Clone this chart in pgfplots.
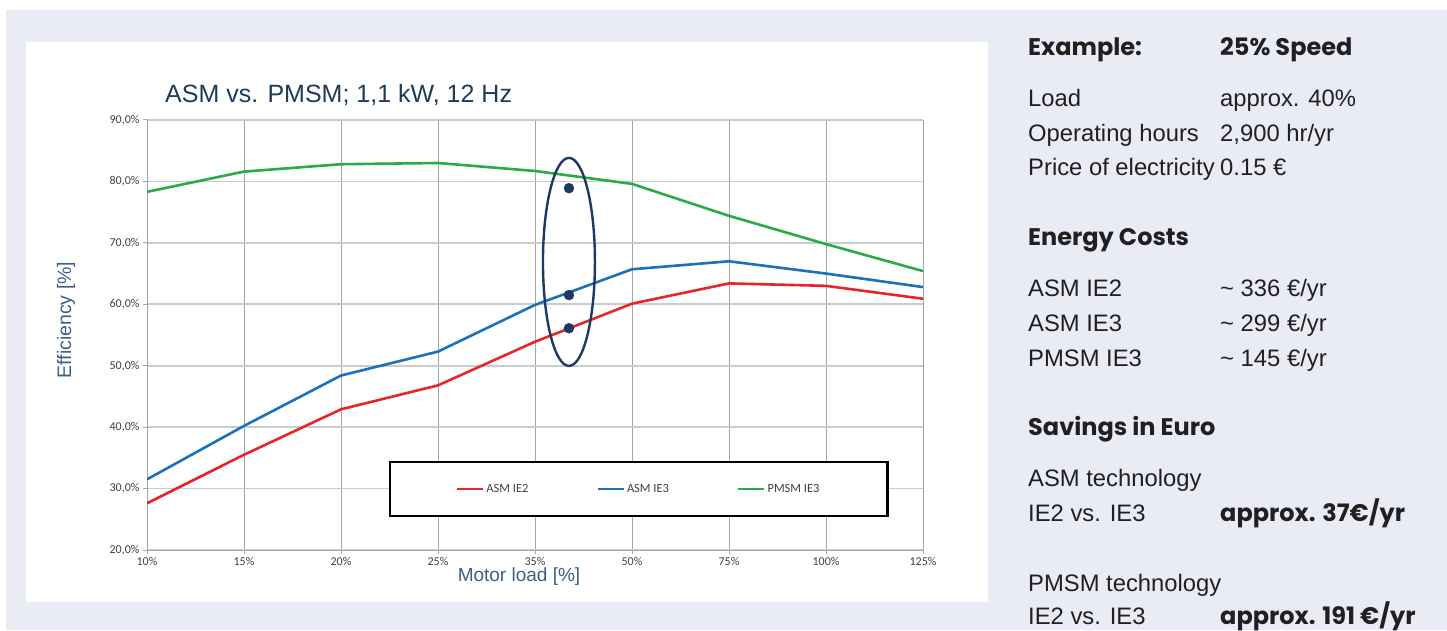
\documentclass[border=0pt]{standalone}
\usepackage{pgfplots}
\pgfplotsset{compat=1.18}
\usepackage{fontspec}
\setmainfont{Liberation Sans}
\newfontfamily\carlito{Carlito}
\newfontfamily\poppins{Poppins}
\definecolor{bgc}{RGB}{233,236,245}
\definecolor{cred}{RGB}{232,38,42}
\definecolor{cblue}{RGB}{27,114,187}
\definecolor{cgreen}{RGB}{44,170,74}
\definecolor{navy}{RGB}{31,56,100}
\definecolor{gridv}{RGB}{166,166,166}
\definecolor{gridh}{RGB}{204,204,204}
\definecolor{ticktxt}{RGB}{64,64,64}
\definecolor{titlec}{RGB}{31,59,92}
\definecolor{labc}{RGB}{62,95,138}
\definecolor{txt}{RGB}{35,31,32}
\newcommand{\reg}{\fontsize{23.8bp}{28bp}\selectfont\color{txt}}
\newcommand{\hd}{\poppins\bfseries\fontsize{24bp}{28bp}\selectfont\color{txt}}
\begin{document}
\begin{tikzpicture}
\begin{scope}[x=1bp,y=1bp]
\path (0,0) rectangle (1447,630);
\fill[bgc] (6,0) rectangle (1447,620);
\fill[white] (26,28) rectangle (988,588);
\end{scope}
\begin{axis}[
  at={(147bp,80bp)}, anchor=south west,
  scale only axis, width=776bp, height=430bp,
  xmin=0, xmax=8, ymin=20, ymax=90,
  xtick={0,...,8},
  xticklabels={10\%,15\%,20\%,25\%,35\%,50\%,75\%,100\%,125\%},
  ytick={20,30,...,90},
  yticklabels={20{,}0\%,30{,}0\%,40{,}0\%,50{,}0\%,60{,}0\%,70{,}0\%,80{,}0\%,90{,}0\%},
  axis x line*=bottom, axis y line*=left,
  axis line style={gridv, line width=1bp, -},
  tick align=outside, major tick length=4bp,
  tick style={gridv, line width=1bp},
  xmajorgrids, ymajorgrids,
  x grid style={gridv, line width=1bp},
  y grid style={gridh, line width=1.6bp},
  ticklabel style={font=\carlito\fontsize{12bp}{13bp}\selectfont, text=ticktxt},
  legend columns=3,
  legend style={at={(0.3115,0.207)}, anchor=north west, draw=black, line width=2.2bp,
    font=\carlito\fontsize{12.5bp}{14bp}\selectfont, text=ticktxt,
    inner xsep=66bp, inner ysep=20bp,
    /tikz/every even column/.append style={column sep=0bp}},
  legend image code/.code={\draw[#1] (0bp,0bp) -- (26bp,0bp);},
]
\addplot[cred, line width=2.6bp] coordinates {(0,27.6) (1,35.5) (2,42.9) (3,46.8) (4,53.9) (5,60.1) (6,63.4) (7,63.0) (8,60.9)};
\addlegendentry{\makebox[108bp][l]{ASM IE2}}
\addplot[cblue, line width=2.6bp] coordinates {(0,31.5) (1,40.2) (2,48.4) (3,52.3) (4,59.9) (5,65.7) (6,67.0) (7,65.0) (8,62.8)};
\addlegendentry{\makebox[108bp][l]{ASM IE3}}
\addplot[cgreen, line width=2.6bp] coordinates {(0,78.3) (1,81.6) (2,82.8) (3,83.0) (4,81.7) (5,79.6) (6,74.4) (7,69.8) (8,65.4)};
\addlegendentry{PMSM IE3}
\addplot[only marks, mark=*, mark size=5bp, navy, forget plot] coordinates {(4.35,78.9) (4.35,61.5) (4.35,56.1)};
\draw[navy, line width=2.4bp] (axis cs:4.35,66.9) ellipse [x radius=26bp, y radius=104bp];
\end{axis}
\begin{scope}[x=1bp,y=1bp]
\node[anchor=base west, inner sep=0, text=titlec, font=\fontsize{25bp}{29bp}\selectfont] at (165,527) {ASM vs. PMSM; 1,1 kW, 12 Hz};
\node[rotate=90, inner sep=0, text=labc, font=\fontsize{19.5bp}{23bp}\selectfont] at (66,310) {Efficiency [\%]};
\node[inner sep=0, text=labc, font=\fontsize{19bp}{23bp}\selectfont] at (519,53) {Motor load [\%]};
% right panel
\node[anchor=base west, inner sep=0] at (1028,574) {\hd Example:};
\node[anchor=base west, inner sep=0] at (1220,574) {\hd 25\% Speed};
\node[anchor=base west, inner sep=0] at (1028,523) {\reg Load};
\node[anchor=base west, inner sep=0] at (1220,523) {\reg approx. 40\%};
\node[anchor=base west, inner sep=0] at (1028,488) {\reg Operating hours};
\node[anchor=base west, inner sep=0] at (1220,488) {\reg 2,900 hr/yr};
\node[anchor=base west, inner sep=0] at (1028,454) {\reg Price of electricity};
\node[anchor=base west, inner sep=0] at (1220,454) {\reg 0.15 €};
\node[anchor=base west, inner sep=0] at (1028,384) {\hd Energy Costs};
\node[anchor=base west, inner sep=0] at (1028,334) {\reg ASM IE2};
\node[anchor=base west, inner sep=0] at (1220,334) {\reg \textasciitilde{} 336 €/yr};
\node[anchor=base west, inner sep=0] at (1028,299) {\reg ASM IE3};
\node[anchor=base west, inner sep=0] at (1220,299) {\reg \textasciitilde{} 299 €/yr};
\node[anchor=base west, inner sep=0] at (1028,264) {\reg PMSM IE3};
\node[anchor=base west, inner sep=0] at (1220,264) {\reg \textasciitilde{} 145 €/yr};
\node[anchor=base west, inner sep=0] at (1028,195) {\hd Savings in Euro};
\node[anchor=base west, inner sep=0] at (1028,144) {\reg ASM technology};
\node[anchor=base west, inner sep=0] at (1028,109) {\reg IE2 vs. IE3};
\node[anchor=base west, inner sep=0] at (1220,109) {\hd approx. 37€/yr};
\node[anchor=base west, inner sep=0] at (1028,39) {\reg PMSM technology};
\node[anchor=base west, inner sep=0] at (1028,6) {\reg IE2 vs. IE3};
\node[anchor=base west, inner sep=0] at (1220,6) {\hd approx. 191 €/yr};
\end{scope}
\end{tikzpicture}
\end{document}
